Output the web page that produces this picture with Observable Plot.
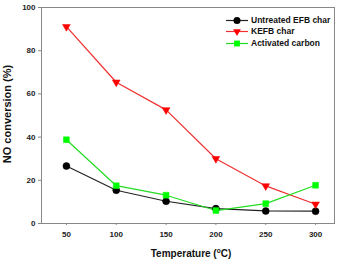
<!DOCTYPE html>
<html><head><meta charset="utf-8">
<script src="https://cdn.jsdelivr.net/npm/d3@7"></script>
<script src="https://cdn.jsdelivr.net/npm/@observablehq/plot@0.6"></script>
<style>
body{margin:0;background:#fff;}
#c{position:relative;width:341px;height:260px;font-family:"Liberation Sans",Arial,sans-serif;}
#leg{position:absolute;left:226px;top:15px;font-size:8.5px;font-weight:bold;color:#111;line-height:11.3px;}
#leg div{display:flex;align-items:center;height:11.3px;}
#leg svg{margin-right:3px;}
</style></head><body>
<div id="c"><div id="leg"></div></div>
<script>
const temps = [50, 100, 150, 200, 250, 300];
const untreated = [26.6, 15.4, 10.3, 6.9, 5.8, 5.7];
const kefb = [91.1, 65.4, 52.6, 30.0, 17.4, 8.9];
const activated = [38.8, 17.5, 13.1, 6.0, 9.2, 17.7];
const seriesNames = ["Untreated EFB char", "KEFB char", "Activated carbon"];
const yTicks = [0, 20, 40, 60, 80, 100];

const series = [
  {name: seriesNames[0], vals: untreated, line: "#222", fill: "#000", symbol: "circle", r: 3.5, rotate: 0},
  {name: seriesNames[1], vals: kefb, line: "#f03030", fill: "#ff0000", symbol: "triangle", r: 2.9, rotate: 180},
  {name: seriesNames[2], vals: activated, line: "#22dd22", fill: "#00ff00", symbol: "square", r: 3.3, rotate: 0}
];
const rows = series.flatMap(s => temps.map((t, i) => ({t, v: s.vals[i], name: s.name})));

const marks = [
  Plot.frame({stroke: "#888", strokeWidth: 1}),
];
for (const s of series) {
  const d = rows.filter(r => r.name === s.name);
  marks.push(Plot.line(d, {x: "t", y: "v", stroke: s.line, strokeWidth: 1.2}));
}
for (const s of series) {
  const d = rows.filter(r => r.name === s.name);
  marks.push(Plot.dot(d, {x: "t", y: "v", fill: s.fill, stroke: s.fill, strokeWidth: 0.5, symbol: s.symbol, r: s.r, rotate: s.rotate}));
}
marks.push(Plot.axisX(temps, {tickSize: 2, stroke: "#888", tickPadding: 6, fontSize: 8, fontWeight: "bold", fill: "#222", label: null}));
marks.push(Plot.axisY(yTicks, {tickSize: 3, stroke: "#888", tickPadding: 3, fontSize: 8, fontWeight: "bold", fill: "#222", label: null}));

const plot = Plot.plot({
  width: 341, height: 260,
  marginLeft: 41, marginRight: 7, marginTop: 7, marginBottom: 37,
  style: {fontFamily: "'Liberation Sans', Arial, sans-serif", background: "#fff"},
  x: {domain: [25, 319]},
  y: {domain: [0, 100]},
  marks
});
document.getElementById("c").prepend(plot);

const svg = d3.select(plot);
const xt = svg.append("text").attr("x", 191).attr("y", 257).attr("text-anchor", "middle")
  .attr("font-size", 10).attr("font-weight", "bold").attr("fill", "#111")
  .attr("font-family", "'Liberation Sans', Arial, sans-serif");
xt.append("tspan").text("Temperature (");
xt.append("tspan").attr("font-size", 6.5).attr("dy", -4).text("o");
xt.append("tspan").attr("dy", 4).text("C)");
svg.append("text").attr("transform", "translate(11,114) rotate(-90)").attr("text-anchor", "middle")
  .attr("font-size", 11).attr("font-weight", "bold").attr("fill", "#111")
  .attr("font-family", "'Liberation Sans', Arial, sans-serif").text("NO conversion (%)");

const leg = d3.select("#leg");
for (const s of series) {
  const row = leg.append("div");
  const sw = row.append("svg").attr("width", 22).attr("height", 9);
  sw.append("line").attr("x1", 0).attr("x2", 22).attr("y1", 4.5).attr("y2", 4.5).attr("stroke", s.line).attr("stroke-width", 1.2);
  const sym = d3.symbol().type(s.symbol === "circle" ? d3.symbolCircle : s.symbol === "triangle" ? d3.symbolTriangle : d3.symbolSquare).size(s.r * s.r * Math.PI)();
  sw.append("path").attr("d", sym).attr("transform", `translate(11,4.5) rotate(${s.rotate})`).attr("fill", s.fill);
  row.append("span").text(s.name);
}
</script>
</body></html>
